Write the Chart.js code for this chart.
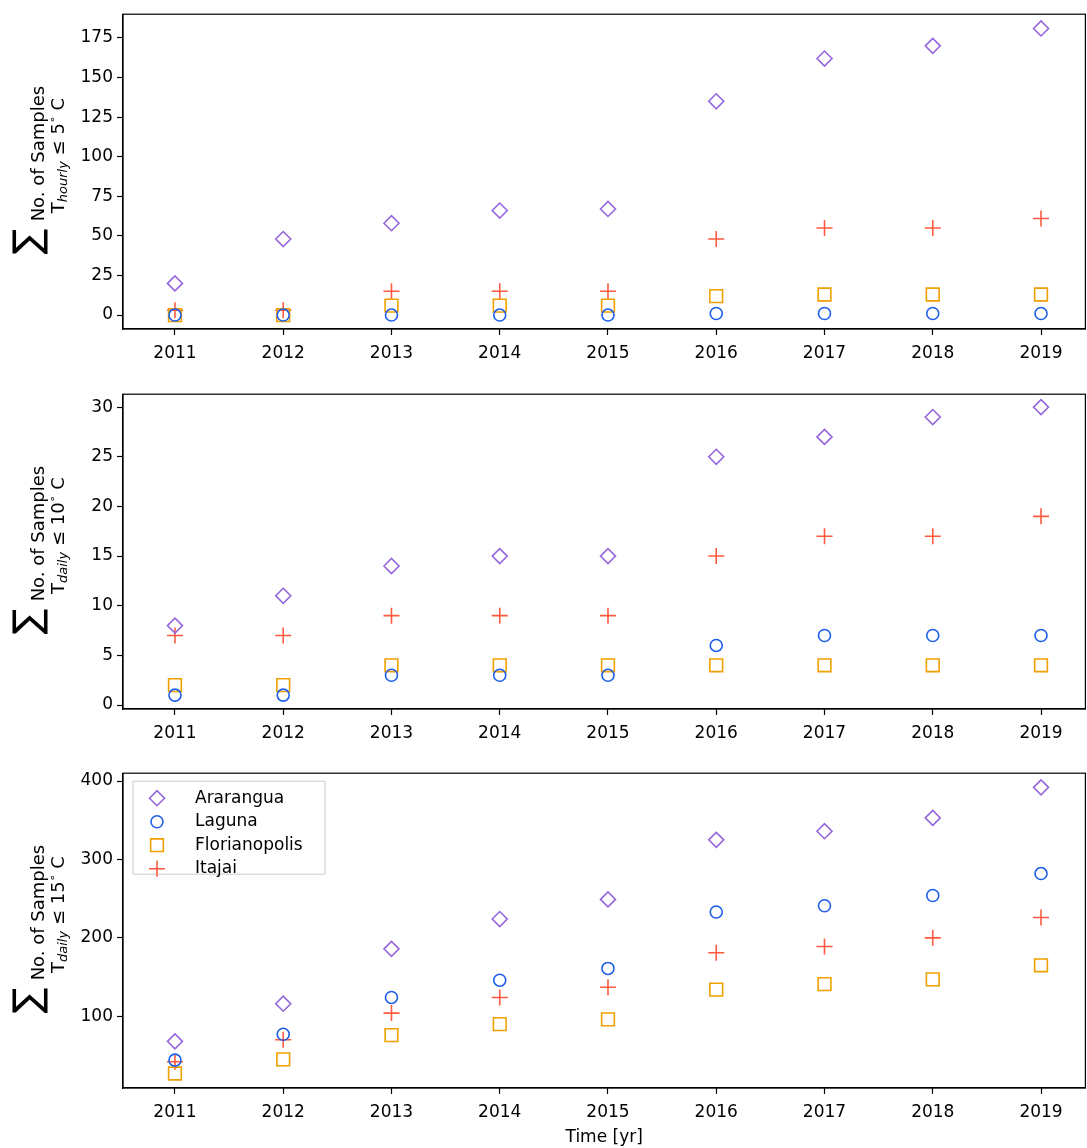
<!DOCTYPE html>
<html><head><meta charset="utf-8">
<script src="https://cdn.jsdelivr.net/npm/chart.js@4"></script>
<style>body{margin:0;background:#fff;overflow:hidden}canvas{position:absolute;left:0}</style>
</head><body>
<div style="position:relative;width:1087px;height:1148px;overflow:hidden">
<canvas id="c1" style="top:0"></canvas>
<canvas id="c2" style="top:380px"></canvas>
<canvas id="c3" style="top:759px"></canvas>
</div>
<script>
const years=[2011,2012,2013,2014,2015,2016,2017,2018,2019];
const seriesNames=['Ararangua','Laguna','Florianopolis','Itajai'];
const hourly5_Ararangua=[20,48,58,66,67,135,162,170,181];
const hourly5_Laguna=[0,0,0,0,0,1,1,1,1];
const hourly5_Florianopolis=[0,0,6,6,6,12,13,13,13];
const hourly5_Itajai=[3,3,15,15,15,48,55,55,61];
const daily10_Ararangua=[8,11,14,15,15,25,27,29,30];
const daily10_Laguna=[1,1,3,3,3,6,7,7,7];
const daily10_Florianopolis=[2,2,4,4,4,4,4,4,4];
const daily10_Itajai=[7,7,9,9,9,15,17,17,19];
const daily15_Ararangua=[68,116,186,224,249,325,336,353,392];
const daily15_Laguna=[44,77,124,146,161,233,241,254,282];
const daily15_Florianopolis=[27,45,76,90,96,134,141,147,165];
const daily15_Itajai=[42,70,104,124,137,181,189,200,226];
const ticks1=[0,25,50,75,100,125,150,175];
const ticks2=[0,5,10,15,20,25,30];
const ticks3=[100,200,300,400];

const styles=[
 {pointStyle:'rectRot',radius:7.5,color:'#9467dd'},
 {pointStyle:'circle',radius:6,color:'#1f5fe8'},
 {pointStyle:'rect',radius:9,color:'#f0a000'},
 {pointStyle:'cross',radius:8,color:'#ff5a40'}];
const FONT='"DejaVu Sans"';
const W=1096;

function mkDatasets(arrs){
 return arrs.map((a,i)=>({label:seriesNames[i],data:a.map((v,j)=>({x:years[j],y:v})),
  showLine:false,pointStyle:styles[i].pointStyle,pointRadius:styles[i].radius,
  pointBorderColor:styles[i].color,pointBackgroundColor:'rgba(0,0,0,0)',pointBorderWidth:1.6,pointHoverRadius:styles[i].radius}));
}
function drawLabel(ctx,ca,sub,thr){
 const cy=(ca.top+ca.bottom)/2;
 ctx.save();ctx.translate(0,cy);ctx.rotate(-Math.PI/2);ctx.fillStyle='#000';
 ctx.textBaseline='middle';ctx.textAlign='center';
 ctx.font='38px '+FONT;ctx.fillText('\u2211',-70,30);
 ctx.font='18px '+FONT;ctx.fillText('No. of Samples',18,39);
 const parts=[['T','18px '+FONT,0],[sub,'italic 13px '+FONT,5],[' \u2264 '+thr,'18px '+FONT,0],['\u2218','11px '+FONT,-6],[' C','18px '+FONT,0]];
 let w=0;parts.forEach(p=>{ctx.font=p[1];w+=ctx.measureText(p[0]).width;});
 let x=16-w/2;ctx.textAlign='left';
 parts.forEach(p=>{ctx.font=p[1];ctx.fillText(p[0],x,59+p[2]);x+=ctx.measureText(p[0]).width;});
 ctx.restore();
}
function mk(id,h,arrs,ymin,ymax,ticks,sub,thr,xtitle,legend){
 const cv=document.getElementById(id);cv.width=W;cv.height=h;cv.style.width=W+'px';cv.style.height=h+'px';
 new Chart(cv,{type:'scatter',data:{datasets:mkDatasets(arrs)},
 options:{responsive:false,animation:false,devicePixelRatio:1,
  layout:{padding:{top:13,right:0,left:0,bottom:0}},
  plugins:{legend:{display:false},tooltip:{enabled:false}},
  scales:{
   x:{type:'linear',min:2010.52,max:2019.41,
    afterBuildTicks:s=>{s.ticks=years.map(v=>({value:v}));},
    ticks:{font:{family:FONT,size:17},color:'#000',callback:v=>String(v),maxRotation:0,autoSkip:false,padding:8},
    grid:{display:true,drawOnChartArea:false,drawTicks:true,tickLength:6,color:'#000',tickWidth:1.2},
    border:{display:true,color:'#000',width:1.2},
    title:{display:!!xtitle,text:xtitle||'',font:{family:FONT,size:17},color:'#000',padding:{top:2,bottom:0}},
    afterFit:s=>{s.height=h-13-316;}},
   y:{min:ymin,max:ymax,afterBuildTicks:s=>{s.ticks=ticks.map(v=>({value:v}));},
    ticks:{font:{family:FONT,size:17},color:'#000',padding:4},
    grid:{display:true,drawOnChartArea:false,drawTicks:true,tickLength:6,color:'#000',tickWidth:1.2},
    border:{display:true,color:'#000',width:1.2},
    afterFit:s=>{s.width=123;}}}},
 plugins:[{id:'deco',afterDraw(c){
   const ctx=c.ctx,ca=c.chartArea;
   ctx.save();ctx.strokeStyle='#000';ctx.lineWidth=1.2;ctx.strokeRect(ca.left,ca.top,ca.right-ca.left,ca.bottom-ca.top);ctx.restore();
   drawLabel(ctx,ca,sub,thr);
   if(legend){
    ctx.save();ctx.strokeStyle='#ccc';ctx.lineWidth=1;ctx.fillStyle='rgba(255,255,255,0.8)';
    ctx.beginPath();ctx.rect(ca.left+10,ca.top+8,192,93);ctx.fill();ctx.stroke();
    seriesNames.forEach((n,i)=>{const y=ca.top+25+i*23.5;
     ctx.strokeStyle=styles[i].color;ctx.fillStyle='rgba(0,0,0,0)';ctx.lineWidth=1.6;
     Chart.helpers.drawPoint(ctx,{pointStyle:styles[i].pointStyle,radius:styles[i].radius,rotation:0,borderWidth:1.6},ca.left+34,y);
     ctx.fillStyle='#000';ctx.font='17px '+FONT;ctx.textBaseline='middle';ctx.textAlign='left';ctx.fillText(n,ca.left+72,y);});
    ctx.restore();}
 }}]});
}
mk('c1',370,[hourly5_Ararangua,hourly5_Laguna,hourly5_Florianopolis,hourly5_Itajai],-8.8,190,ticks1,'hourly','5',null,false);
mk('c2',370,[daily10_Ararangua,daily10_Laguna,daily10_Florianopolis,daily10_Itajai],-0.4,31.3,ticks2,'daily','10',null,false);
mk('c3',389,[daily15_Ararangua,daily15_Laguna,daily15_Florianopolis,daily15_Itajai],8.5,410,ticks3,'daily','15','Time [yr]',true);
</script></body></html>
